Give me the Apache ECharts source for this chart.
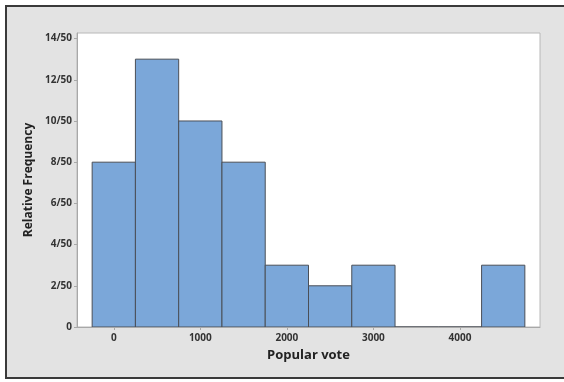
<!DOCTYPE html>
<html>
<head>
<meta charset="utf-8">
<script src="https://cdn.jsdelivr.net/npm/echarts@6/dist/echarts.min.js"></script>
<style>
html,body{margin:0;padding:0;background:#fff;}
#c{width:564px;height:382px;}
</style>
</head>
<body>
<div id="c"></div>
<script>
// Data
const binCenters = [0, 500, 1000, 1500, 2000, 2500, 3000, 3500, 4000, 4500];
const counts = [8, 13, 10, 8, 3, 2, 3, 0, 0, 3];
const binWidth = 500;
const total = 50;
const xTickValues = [0, 1000, 2000, 3000, 4000];
const yTickValues = [0, 2, 4, 6, 8, 10, 12, 14];
const xTitle = 'Popular vote';
const yTitle = 'Relative Frequency';

const chart = echarts.init(document.getElementById('c'), null, {renderer: 'canvas'});
const font = '"Open Sans", "DejaVu Sans", sans-serif';

const seriesData = binCenters.map((c, i) => [c - binWidth / 2, c + binWidth / 2, counts[i]]);

chart.setOption({
  animation: false,
  graphic: [
    {type: 'rect', z: -10, shape: {x: 6, y: 6, width: 570, height: 372}, style: {fill: '#e3e3e3'}},
    {type: 'line', z: -9, shape: {x1: 6, y1: 6, x2: 564, y2: 6}, style: {stroke: '#3a3a3a', lineWidth: 2}},
    {type: 'line', z: -9, shape: {x1: 6, y1: 5, x2: 6, y2: 379}, style: {stroke: '#3a3a3a', lineWidth: 2}},
    {type: 'line', z: -9, shape: {x1: 5, y1: 378, x2: 564, y2: 378}, style: {stroke: '#3a3a3a', lineWidth: 2}}
  ],
  grid: {
    left: 77, right: 24, top: 33, bottom: 55,
    show: true, backgroundColor: '#ffffff', borderColor: '#b8b8b8', borderWidth: 1
  },
  xAxis: {
    type: 'value', min: -425, max: 4925,
    name: xTitle, nameLocation: 'middle', nameGap: 22,
    nameTextStyle: {fontFamily: font, fontSize: 13, fontWeight: 'bold', color: '#222'},
    axisLine: {show: true, onZero: false, lineStyle: {color: '#a8a8a8'}},
    axisTick: {show: true, length: 3, lineStyle: {color: '#a8a8a8'}, customValues: xTickValues},
    axisLabel: {fontFamily: font, fontSize: 10, fontWeight: 'bold', color: '#333', margin: 6,
      customValues: xTickValues, formatter: v => String(v)},
    splitLine: {show: false}
  },
  yAxis: {
    type: 'value', min: 0, max: 14.27, interval: 2,
    name: yTitle, nameLocation: 'middle', nameGap: 36,
    nameTextStyle: {fontFamily: font, fontSize: 12, fontWeight: 'bold', color: '#222'},
    axisLine: {show: true, onZero: false, lineStyle: {color: '#a8a8a8'}},
    axisTick: {show: true, length: 3, lineStyle: {color: '#a8a8a8'}, customValues: yTickValues},
    axisLabel: {fontFamily: font, fontSize: 10, fontWeight: 'bold', color: '#333', margin: 5,
      customValues: yTickValues,
      formatter: v => v === 0 ? '0' : v + '/' + total},
    splitLine: {show: false}
  },
  series: [{
    type: 'custom',
    data: seriesData,
    encode: {x: [0, 1], y: 2},
    clip: true,
    renderItem: function (params, api) {
      const p0 = api.coord([api.value(0), 0]);
      const p1 = api.coord([api.value(1), api.value(2)]);
      return {
        type: 'rect',
        shape: {x: p0[0], y: p1[1], width: p1[0] - p0[0], height: p0[1] - p1[1]},
        style: {fill: '#7ba7d9', stroke: '#4a4f57', lineWidth: 1}
      };
    }
  }]
});
</script>
</body>
</html>
